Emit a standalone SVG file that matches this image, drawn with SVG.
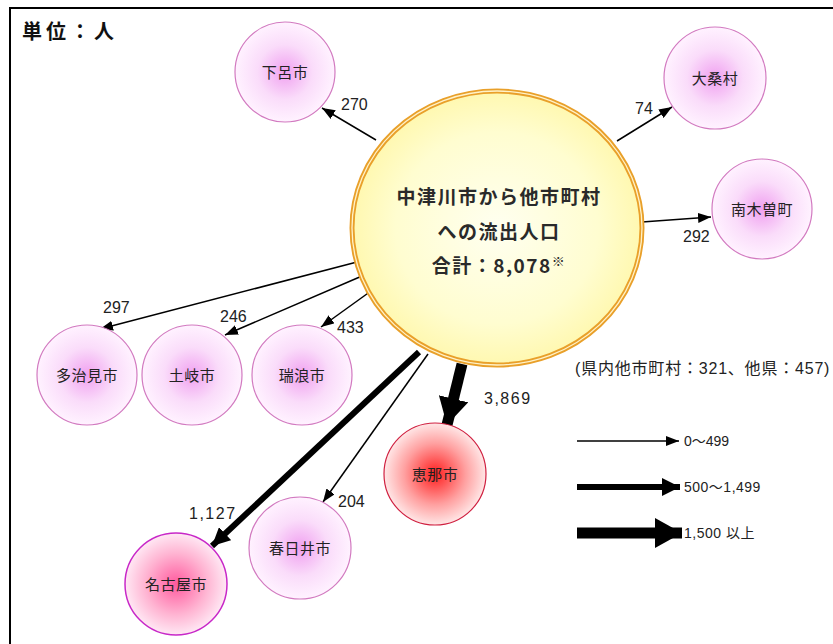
<svg xmlns="http://www.w3.org/2000/svg" width="833" height="644" viewBox="0 0 833 644">
<style>
.lbl{font-family:"Liberation Sans","Noto Sans CJK JP",sans-serif;font-size:15px;fill:#222;text-anchor:middle;dominant-baseline:central;letter-spacing:0.5px}
.num{font-family:"Liberation Sans","Noto Sans CJK JP",sans-serif;font-size:16px;fill:#222}
.ctr{font-family:"Noto Sans CJK JP",sans-serif;font-size:19px;font-weight:bold;fill:#2a2a2a;text-anchor:middle;letter-spacing:1.5px}
.pink{fill:url(#gPink);stroke:#d27ac0;stroke-width:1.2}
.thin{stroke:#000;stroke-width:1.5;fill:none;marker-end:url(#mThin)}
.med{stroke:#000;stroke-width:6;fill:none;marker-end:url(#mMed)}
.thick{stroke:#000;stroke-width:11;fill:none;marker-end:url(#mThick)}
</style>
<defs>
<radialGradient id="gPink"><stop offset="0" stop-color="#f0a0f0"/><stop offset="0.55" stop-color="#fadcfa"/><stop offset="1" stop-color="#fff2ff"/></radialGradient>
<radialGradient id="gRed"><stop offset="0" stop-color="#ff1e1e"/><stop offset="0.6" stop-color="#ffa0a0"/><stop offset="1" stop-color="#ffe6e6"/></radialGradient>
<radialGradient id="gMag"><stop offset="0" stop-color="#ff5a9e"/><stop offset="0.6" stop-color="#ffb4d2"/><stop offset="1" stop-color="#ffe8f4"/></radialGradient>
<radialGradient id="gYel"><stop offset="0" stop-color="#fffff0"/><stop offset="0.7" stop-color="#fffdd0"/><stop offset="1" stop-color="#fff8b0"/></radialGradient>
<marker id="mThin" markerUnits="userSpaceOnUse" markerWidth="13" markerHeight="10" refX="13" refY="5" orient="auto"><path d="M0,0 L13,5 L0,10 z" fill="#000"/></marker>
<marker id="mMed" markerUnits="userSpaceOnUse" markerWidth="18" markerHeight="18" refX="18" refY="9" orient="auto"><path d="M0,0 L18,9 L0,18 z" fill="#000"/></marker>
<marker id="mThick" markerUnits="userSpaceOnUse" markerWidth="27" markerHeight="30" refX="27" refY="15" orient="auto"><path d="M0,0 L27,15 L0,30 z" fill="#000"/></marker>
</defs>
<rect width="833" height="644" fill="#fff"/>
<path d="M10,644 V8 H833" fill="none" stroke="#000" stroke-width="2"/>
<text x="22" y="39" style="font-family:'Noto Sans CJK JP',sans-serif;font-size:20px;font-weight:bold;fill:#111;letter-spacing:4px">単位：人</text>

<g id="connectors">
<line class="thin" x1="376" y1="140" x2="322" y2="108"/>
<line class="thin" x1="617" y1="141" x2="672" y2="107"/>
<line class="thin" x1="642" y1="222" x2="711" y2="217"/>
<line class="thin" x1="357" y1="262" x2="100" y2="329"/>
<line class="thin" x1="362" y1="276" x2="225" y2="335"/>
<line class="thin" x1="371" y1="291" x2="321" y2="327"/>
<line class="thin" x1="428" y1="354" x2="323" y2="502"/>
<line class="med" x1="419" y1="352" x2="212" y2="546"/>
<line class="thick" x1="462" y1="364" x2="447" y2="425"/>
</g>

<g id="center">
<ellipse cx="497" cy="228" rx="145" ry="137" fill="url(#gYel)" stroke="#e9a02a" stroke-width="5"/>
<ellipse cx="497" cy="228" rx="145" ry="137" fill="none" stroke="#fff2c8" stroke-width="1.3"/>
<text class="ctr" x="499" y="204">中津川市から他市町村</text>
<text class="ctr" x="499" y="239">への流出人口</text>
<text class="ctr" x="499" y="273">合計：8,078<tspan font-size="13" dy="-7">※</tspan></text>
</g>

<g id="gero"><circle class="pink" cx="285" cy="72" r="50"/><text class="lbl" x="285" y="72">下呂市</text></g>
<g id="ookuwa"><circle class="pink" cx="715" cy="78" r="51"/><text class="lbl" x="715" y="78">大桑村</text></g>
<g id="nagiso"><circle class="pink" cx="762" cy="209" r="50"/><text class="lbl" x="762" y="209">南木曽町</text></g>
<g id="tajimi"><circle class="pink" cx="87" cy="375" r="50"/><text class="lbl" x="87" y="375">多治見市</text></g>
<g id="toki"><circle class="pink" cx="192" cy="375" r="50"/><text class="lbl" x="192" y="375">土岐市</text></g>
<g id="mizunami"><circle class="pink" cx="302" cy="375" r="50"/><text class="lbl" x="302" y="375">瑞浪市</text></g>
<g id="ena"><circle cx="435" cy="474" r="51" fill="url(#gRed)" stroke="#d02040" stroke-width="1.2"/><text class="lbl" x="435" y="474">恵那市</text></g>
<g id="kasugai"><circle class="pink" cx="300" cy="548" r="51"/><text class="lbl" x="300" y="548">春日井市</text></g>
<g id="nagoya"><circle cx="176" cy="584" r="51" fill="url(#gMag)" stroke="#c828c8" stroke-width="1.5"/><text class="lbl" x="176" y="584">名古屋市</text></g>

<g id="labels">
<text class="num" x="341" y="110">270</text>
<text class="num" x="635" y="114">74</text>
<text class="num" x="683" y="242">292</text>
<text class="num" x="103" y="313">297</text>
<text class="num" x="220" y="322">246</text>
<text class="num" x="337" y="333">433</text>
<text class="num" x="484" y="404" style="letter-spacing:1.5px">3,869</text>
<text class="num" x="189" y="519" style="letter-spacing:1.5px">1,127</text>
<text class="num" x="338" y="507">204</text>
<text class="num" x="575" y="374" style="font-size:16px;letter-spacing:0.8px">(県内他市町村：321、他県：457)</text>
</g>

<g id="legend">
<line class="thin" x1="577" y1="441" x2="679" y2="441"/>
<text class="num" x="684" y="446" style="font-size:14px">0～499</text>
<line class="med" x1="577" y1="487" x2="680" y2="487"/>
<text class="num" x="684" y="492" style="font-size:14px;letter-spacing:0.5px">500～1,499</text>
<line class="thick" x1="577" y1="533" x2="682" y2="533"/>
<text class="num" x="684" y="538" style="font-size:14px;letter-spacing:0.5px">1,500 以上</text>
</g>
</svg>
